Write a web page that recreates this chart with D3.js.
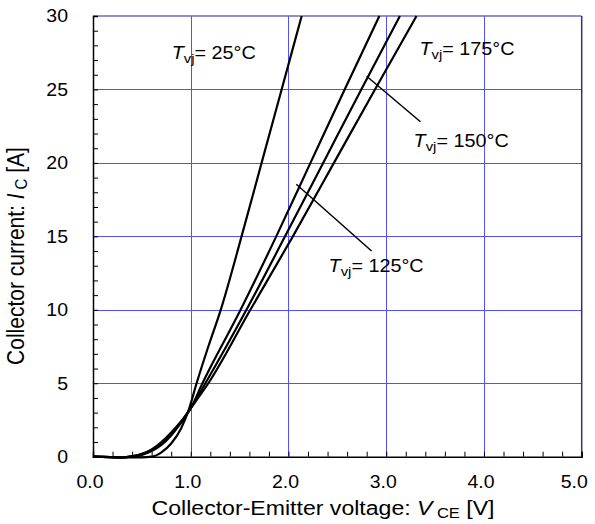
<!DOCTYPE html>
<html>
<head>
<meta charset="utf-8">
<script src="https://cdn.jsdelivr.net/npm/d3@7"></script>
<style>
  body { margin: 0; background: #fff; }
  text { font-family: "Liberation Sans", Arial, sans-serif; fill: #000; }
</style>
</head>
<body>
<div id="chart-area"></div>
<script>
// values: V_CE [V] vs I_C [A]
const vce25 = [0.0, 0.3, 0.5, 0.6, 0.7, 0.8, 0.9, 0.98, 1.06, 1.18, 1.307, 1.52, 1.725, 1.93, 2.135];
const ic25  = [0.0, -0.05, -0.05, 0.0, 0.3, 0.9, 1.9, 3.2, 5, 7.5, 10, 15, 20, 25, 30];

const vce125 = [0.0, 0.3, 0.4, 0.5, 0.6, 0.7, 0.8, 0.9, 1.0, 1.12, 1.51, 1.875, 2.225, 2.575, 2.93];
const ic125  = [0.0, -0.05, 0.0, 0.12, 0.38, 0.8, 1.45, 2.3, 3.3, 5, 10, 15, 20, 25, 30];

const vce150 = [0.0, 0.3, 0.4, 0.5, 0.6, 0.7, 0.8, 0.9, 1.0, 1.15, 1.57, 1.965, 2.355, 2.745, 3.14];
const ic150  = [0.0, -0.05, 0.02, 0.16, 0.45, 0.9, 1.55, 2.35, 3.3, 5, 10, 15, 20, 25, 30];

const vce175 = [0.0, 0.3, 0.4, 0.5, 0.6, 0.7, 0.8, 0.9, 1.0, 1.18, 1.61, 2.045, 2.465, 2.885, 3.31];
const ic175  = [0.0, -0.05, 0.04, 0.2, 0.5, 1.0, 1.65, 2.4, 3.3, 5, 10, 15, 20, 25, 30];

const xTicks = [0, 1, 2, 3, 4, 5];
const yTicks = [0, 5, 10, 15, 20, 25, 30];
const tempLabels = ["25°C", "125°C", "150°C", "175°C"];

const width = 595;
const height = 524;
const margin = {top: 16, right: 13.3, bottom: 67.3, left: 93};
const sx = 1.1;   // text in the picture is a bit wider than plain Arial

const svg = d3.select("#chart-area")
    .append("svg")
    .attr("width", width)
    .attr("height", height);

const x = d3.scaleLinear().domain([0, 5]).range([margin.left, width - margin.right]);
const y = d3.scaleLinear().domain([0, 30]).range([height - margin.bottom, margin.top]);

// grid
svg.append("g")
    .selectAll("line")
    .data(xTicks.slice(1, -1))
    .join("line")
    .attr("x1", d => Math.round(x(d)) + 0.5).attr("x2", d => Math.round(x(d)) + 0.5)
    .attr("y1", y(0)).attr("y2", y(30))
    .attr("stroke", "#5050ff").attr("stroke-width", 1);

svg.append("g")
    .selectAll("line")
    .data(yTicks.slice(1, -1))
    .join("line")
    .attr("x1", x(0)).attr("x2", x(5))
    .attr("y1", d => Math.round(y(d)) + 0.5).attr("y2", d => Math.round(y(d)) + 0.5)
    .attr("stroke", "#5050ff").attr("stroke-width", 1);

// top + right frame
svg.append("line")
    .attr("x1", x(0)).attr("x2", x(5)).attr("y1", y(30)).attr("y2", y(30))
    .attr("stroke", "#6b6bc8").attr("stroke-width", 1.5);
svg.append("line")
    .attr("x1", x(5)).attr("x2", x(5)).attr("y1", y(30)).attr("y2", y(0))
    .attr("stroke", "#333366").attr("stroke-width", 1.5);

// axes with inward ticks
const xAxis = d3.axisBottom(x).tickValues(d3.range(0, 5.01, 0.2)).tickSize(-5).tickFormat("");
const yAxis = d3.axisLeft(y).tickValues(d3.range(0, 30.01, 1)).tickSize(-5).tickFormat("");

svg.append("g")
    .attr("transform", `translate(0,${y(0)})`)
    .call(xAxis)
    .call(g => g.select(".domain").attr("stroke-width", 1.5))
    .call(g => g.selectAll(".tick line").attr("stroke", "#000"));

svg.append("g")
    .attr("transform", `translate(${x(0)},0)`)
    .call(yAxis)
    .call(g => g.select(".domain").attr("stroke-width", 1.5))
    .call(g => g.selectAll(".tick line").attr("stroke", "#000"));

// tick labels
svg.append("g")
    .selectAll("text")
    .data(xTicks)
    .join("text")
    .attr("transform", d => `translate(${x(d) - (d === 5 ? 7.5 : 3)},${y(0) + 31.5}) scale(${sx},1)`)
    .attr("text-anchor", "middle")
    .attr("font-size", 17.7)
    .text(d => d3.format(".1f")(d));

svg.append("g")
    .selectAll("text")
    .data(yTicks)
    .join("text")
    .attr("transform", d => `translate(${x(0) - 25},${y(d) + 6.3}) scale(${sx},1)`)
    .attr("text-anchor", "end")
    .attr("font-size", 17.7)
    .text(d => d);

// axis titles
const xt = svg.append("text")
    .attr("transform", `translate(323,515) scale(${sx},1)`)
    .attr("text-anchor", "middle")
    .attr("font-size", 21);
xt.append("tspan").text("Collector-Emitter voltage: ");
xt.append("tspan").attr("font-style", "italic").text("V");
xt.append("tspan").attr("font-size", 15).attr("dx", 4).attr("dy", 3).text("CE");
xt.append("tspan").attr("dy", -3).text(" [V]");

const yt = svg.append("text")
    .attr("transform", `translate(24,256) scale(${sx},1) rotate(-90)`)
    .attr("text-anchor", "middle")
    .attr("font-size", 21);
yt.append("tspan").text("Collector current: ");
yt.append("tspan").attr("font-style", "italic").text("I");
yt.append("tspan").attr("font-size", 15).attr("dx", 4).attr("dy", 3).text("C");
yt.append("tspan").attr("dy", -3).text(" [A]");

// curves
const series = [
    {v: vce25, i: ic25},
    {v: vce125, i: ic125},
    {v: vce150, i: ic150},
    {v: vce175, i: ic175}
];

const line = d3.line()
    .x(d => x(d[0]))
    .y(d => y(d[1]))
    .curve(d3.curveMonotoneX);

svg.append("g")
    .selectAll("path")
    .data(series)
    .join("path")
    .attr("d", s => line(d3.zip(s.v, s.i)))
    .attr("fill", "none")
    .attr("stroke", "#000")
    .attr("stroke-width", 2.2);

// leader lines (data coords)
const leaders = [
    [[2.80, 25.9], [3.35, 22.8]],
    [[2.08, 18.55], [2.85, 14.0]]
];
svg.append("g")
    .selectAll("line")
    .data(leaders)
    .join("line")
    .attr("x1", d => x(d[0][0])).attr("y1", d => y(d[0][1]))
    .attr("x2", d => x(d[1][0])).attr("y2", d => y(d[1][1]))
    .attr("stroke", "#000").attr("stroke-width", 1.5);

// temperature labels
const labelPos = [[0.805, 27.05], [2.41, 12.6], [3.28, 21.1], [3.34, 27.35]];
tempLabels.forEach((t, k) => {
    const txt = svg.append("text")
        .attr("transform", `translate(${x(labelPos[k][0])},${y(labelPos[k][1])}) scale(${sx},1)`)
        .attr("font-size", 18);
    txt.append("tspan").attr("font-style", "italic").text("T");
    txt.append("tspan").attr("font-size", 13.5).attr("dy", 4).text("vj");
    txt.append("tspan").attr("dy", -4).text("= " + t);
});
</script>
</body>
</html>
